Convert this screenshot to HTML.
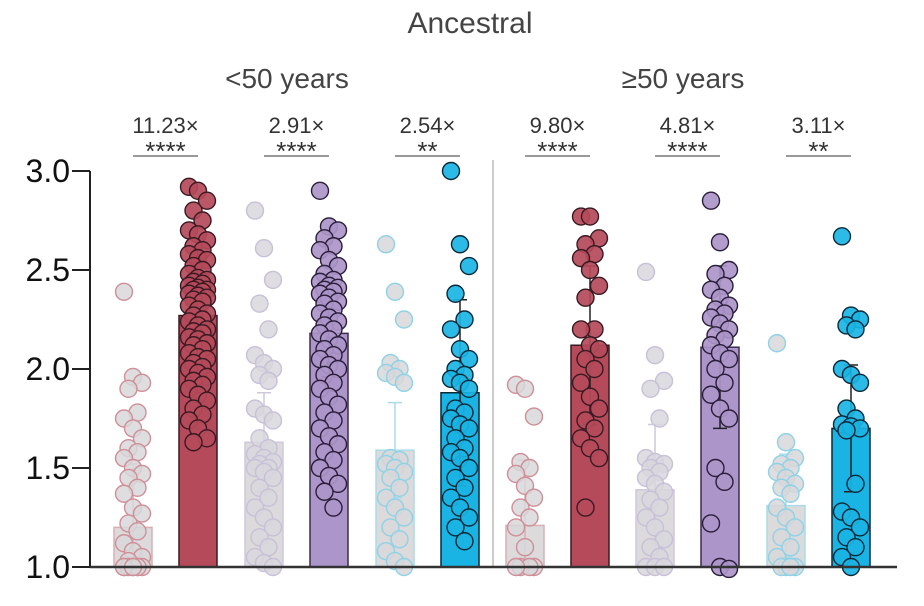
<!DOCTYPE html>
<html><head><meta charset="utf-8"><style>
body{margin:0;background:#fff;width:924px;height:606px;overflow:hidden}
svg{display:block;font-family:"Liberation Sans",sans-serif}
</style></head><body>
<svg id="chart" width="924" height="606" viewBox="0 0 924 606">
<text x="470" y="33" text-anchor="middle" font-size="30" fill="#444">Ancestral</text>
<text x="287" y="88" text-anchor="middle" font-size="28" fill="#444">&lt;50 years</text>
<text x="683" y="88" text-anchor="middle" font-size="28" fill="#444">≥50 years</text>
<g id="plot"></g>
</svg>
<script>
const groupNames=['ctrl-u50-red','red-u50','ctrl-u50-purple','purple-u50','ctrl-u50-blue','blue-u50','ctrl-o50-red','red-o50','ctrl-o50-purple','purple-o50','ctrl-o50-blue','blue-o50'];
const means=[1.20,2.27,1.63,2.18,1.59,1.88,1.21,2.12,1.39,2.11,1.31,1.70];
const sds=[0.32,0.19,0.25,0.22,0.24,0.47,0.33,0.40,0.33,0.41,0.26,0.32];
const foldLabels=['11.23×','2.91×','2.54×','9.80×','4.81×','3.11×'];
const sigLabels=['****','****','**','****','****','**'];
const yTicks=[1.0,1.5,2.0,2.5,3.0];
const points=[
[2.39,1.96,1.93,1.90,1.78,1.75,1.70,1.65,1.60,1.58,1.55,1.50,1.47,1.45,1.40,1.37,1.30,1.27,1.22,1.18,1.12,1.08,1.05,1.03,1.0,1.0,1.0,1.0,1.0,1.0,1.0,1.0],
[2.92,2.90,2.85,2.80,2.75,2.70,2.68,2.65,2.62,2.60,2.58,2.56,2.55,2.52,2.50,2.48,2.46,2.45,2.44,2.43,2.42,2.41,2.40,2.40,2.39,2.38,2.37,2.36,2.35,2.34,2.32,2.30,2.28,2.27,2.25,2.24,2.22,2.20,2.19,2.18,2.16,2.15,2.13,2.12,2.10,2.08,2.06,2.05,2.03,2.01,2.00,1.98,1.96,1.94,1.92,1.90,1.87,1.84,1.80,1.77,1.74,1.70,1.65,1.63],
[2.80,2.61,2.45,2.33,2.20,2.07,2.03,2.00,1.97,1.94,1.80,1.77,1.74,1.65,1.60,1.57,1.55,1.53,1.52,1.50,1.50,1.48,1.45,1.40,1.35,1.30,1.25,1.20,1.15,1.10,1.05,1.02,1.0],
[2.90,2.72,2.70,2.66,2.62,2.60,2.55,2.52,2.48,2.45,2.44,2.42,2.41,2.40,2.39,2.38,2.36,2.34,2.33,2.30,2.28,2.26,2.24,2.22,2.20,2.18,2.15,2.12,2.10,2.07,2.05,2.02,2.00,1.97,1.93,1.90,1.86,1.82,1.78,1.74,1.70,1.66,1.62,1.58,1.54,1.50,1.46,1.42,1.38,1.30],
[2.63,2.39,2.25,2.03,2.00,1.98,1.96,1.93,1.55,1.54,1.52,1.50,1.48,1.45,1.40,1.35,1.30,1.25,1.20,1.14,1.08,1.03,1.0],
[3.00,2.63,2.52,2.38,2.25,2.20,2.10,2.05,2.00,1.97,1.95,1.93,1.90,1.80,1.78,1.75,1.72,1.70,1.65,1.60,1.58,1.55,1.50,1.45,1.40,1.35,1.30,1.25,1.20,1.13],
[1.92,1.90,1.76,1.53,1.50,1.47,1.41,1.35,1.30,1.25,1.20,1.10,1.0,1.0,1.0,1.0],
[2.77,2.77,2.66,2.63,2.58,2.56,2.50,2.42,2.36,2.20,2.20,2.12,2.10,2.05,2.00,1.93,1.86,1.80,1.74,1.70,1.65,1.60,1.55,1.30],
[2.49,2.07,1.94,1.90,1.75,1.55,1.53,1.52,1.50,1.48,1.45,1.42,1.38,1.34,1.30,1.25,1.20,1.14,1.10,1.05,1.0,1.0,1.0],
[2.85,2.64,2.50,2.48,2.42,2.40,2.36,2.32,2.30,2.28,2.26,2.23,2.20,2.17,2.15,2.12,2.08,2.05,2.00,1.93,1.87,1.80,1.75,1.50,1.43,1.22,1.0,0.99],
[2.13,1.63,1.55,1.52,1.50,1.48,1.45,1.42,1.40,1.37,1.30,1.25,1.20,1.15,1.10,1.05,1.0,1.0,1.0,1.0],
[2.67,2.27,2.25,2.22,2.20,2.00,1.97,1.93,1.80,1.75,1.72,1.71,1.70,1.69,1.42,1.28,1.25,1.20,1.15,1.10,1.05,1.0]
];
const NS='http://www.w3.org/2000/svg';
const y0=567,yPer=198;
function yS(v){return y0-(v-1)*yPer;}
function xS(i){const left=[133,198,264,329,395,460,525,590,655,720,786,851];return left[i];}
const fills=['#d8d7d9','#b54a5a','#d8d7dc','#ab95c9','#d8d7d9','#1ab4e4','#d8d7d9','#b54a5a','#d8d7dc','#ab95c9','#d8d7d9','#1ab4e4'];
const strokes=['#cf8f99','#3a1a22','#c8c0d8','#2a1e3a','#8fd2e6','#0a2a3a','#cf8f99','#3a1a22','#c8c0d8','#2a1e3a','#8fd2e6','#0a2a3a'];
const barStrokes=['#d7b0b6','#3a1a22','#cfc8dd','#3a2e4a','#a8dcea','#0a2a3a','#d7b0b6','#3a1a22','#cfc8dd','#3a2e4a','#a8dcea','#0a2a3a'];
const g=document.getElementById('plot');
function mk(t,a){const e=document.createElementNS(NS,t);for(const k in a)e.setAttribute(k,a[k]);g.appendChild(e);return e;}
let ax=mk('line',{x1:90,y1:yS(3.0),x2:90,y2:y0,stroke:'#222','stroke-width':2});


let dv=mk('line',{x1:493,y1:160,x2:493,y2:y0,stroke:'#aaa','stroke-width':1.2});


yTicks.forEach(t=>{
 const l=mk('line',{x1:72,y1:yS(t),x2:90,y2:yS(t),stroke:'#222','stroke-width':2});
 
 
 const tx=mk('text',{x:70,y:yS(t)+11,'text-anchor':'end','font-size':32,fill:'#111'});
 tx.textContent=t.toFixed(1);
 
 
});
for(let i=0;i<12;i++){
 const cx=xS(i),w=38,ctrl=i%2===0;
 const b=mk('rect',{x:cx-w/2,y:yS(means[i]),width:w,height:y0-yS(means[i]),fill:ctrl?'#dcdadb':fills[i],stroke:barStrokes[i],'stroke-width':1.5});
 
 
 const lo=Math.max(1,means[i]-sds[i]),hi=means[i]+sds[i];
 let d=`M${cx},${yS(lo)}V${yS(hi)}M${cx-7},${yS(hi)}H${cx+7}`;
 if(lo>1)d+=`M${cx-7},${yS(lo)}H${cx+7}`;
 const eb=mk('path',{d:d,stroke:ctrl?barStrokes[i]:'#222','stroke-width':1.5,fill:'none'});
 
 
 points[i].forEach((v,j)=>{
  const off=((j*7)%5-2)*4.5;
  const c=mk('circle',{cx:cx+off,cy:yS(v),r:8.5,fill:fills[i],stroke:strokes[i],'stroke-width':1.4,'fill-opacity':ctrl?0.85:0.92});
  
  
 });
}
let xa=mk('line',{x1:90,y1:y0,x2:897,y2:y0,stroke:'#333','stroke-width':2.5});


for(let k=0;k<6;k++){
 const a=xS(2*k),b2=xS(2*k+1),m=(a+b2)/2;
 const f=mk('text',{x:m,y:133,'text-anchor':'middle','font-size':22,fill:'#333'});
 f.textContent=foldLabels[k];
 
 
 const s=mk('text',{x:m,y:160,'text-anchor':'middle','font-size':26,fill:'#333'});
 s.textContent=sigLabels[k];
 
 
 const l=mk('line',{x1:a,y1:156,x2:b2,y2:156,stroke:'#999','stroke-width':2});
 
 
}
</script>
</body></html>
